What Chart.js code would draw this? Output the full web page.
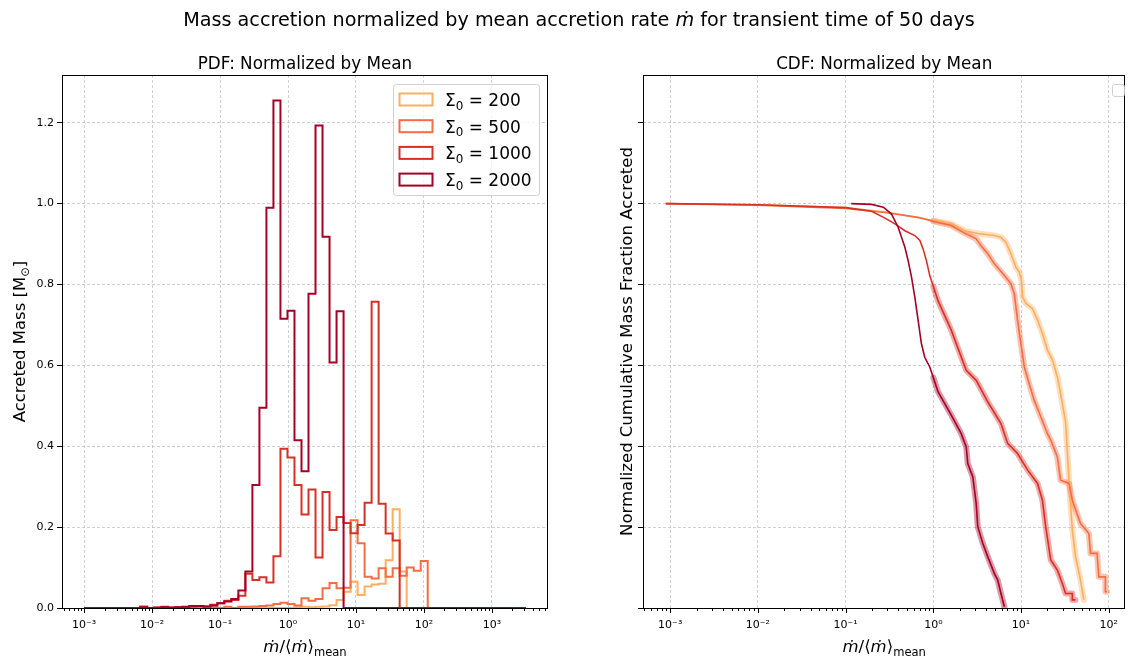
<!DOCTYPE html>
<html>
<head>
<meta charset="utf-8">
<script src="https://cdn.jsdelivr.net/npm/chart.js@4.4.1/dist/chart.umd.min.js"></script>
<style>
  html, body { margin: 0; padding: 0; background: #fff; }
  #figure { position: relative; width: 1129px; height: 659px; }
  #figure canvas { position: absolute; left: 0; top: 0; }
</style>
</head>
<body>
<div id="figure">
  <canvas id="pdfChart" width="1129" height="659"></canvas>
  <canvas id="cdfChart" width="1129" height="659"></canvas>
</div>
<script>
// ---------- data ----------
const sigmaLabels = ["200", "500", "1000", "2000"];
const sigmaColors = ["#fdae61", "#f46d43", "#d73027", "#a50026"];

// log-spaced histogram bins from 1e-3 to 10^3.5
const binLogMin = -3;
const binLogMax = 3.5;
const binCount = 63;

// accreted mass per bin [Msun]
const pdf200 = [
  0, 0, 0, 0, 0, 0, 0, 0, 0, 0,
  0, 0, 0, 0, 0, 0, 0, 0, 0, 0,
  0, 0, 0, 0, 0, 0, 0, 0, 0, 0,
  0.002, 0.003, 0.002, 0.003, 0.004, 0.007, 0.020, 0.040, 0.065, 0.032,
  0.053, 0.058, 0.060, 0.118, 0.244, 0.090, 0, 0, 0, 0,
  0, 0, 0, 0, 0, 0, 0, 0, 0, 0,
  0, 0, 0
];
const pdf500 = [
  0, 0, 0, 0, 0, 0, 0, 0, 0.001, 0,
  0, 0, 0.001, 0, 0, 0, 0.002, 0, 0.002, 0,
  0.003, 0, 0.003, 0.003, 0.004, 0.005, 0.006, 0.010, 0.013, 0.010,
  0.006, 0.024, 0.018, 0.022, 0.049, 0.062, 0.049, 0.050, 0.217, 0.160,
  0.077, 0.073, 0.098, 0.077, 0.098, 0.080, 0.100, 0.092, 0.116, 0,
  0, 0, 0, 0, 0, 0, 0, 0, 0, 0,
  0, 0, 0
];
const pdf1000 = [
  0, 0, 0, 0, 0, 0, 0, 0, 0.004, 0,
  0.002, 0.003, 0, 0.002, 0.002, 0.004, 0.005, 0.004, 0.008, 0.012,
  0.018, 0.020, 0.030, 0.085, 0.069, 0.076, 0.063, 0.128, 0.394, 0.372,
  0.304, 0.231, 0.293, 0.125, 0.287, 0.193, 0.225, 0.210, 0.185, 0.205,
  0.260, 0.757, 0.258, 0.184, 0.167, 0, 0, 0, 0, 0,
  0, 0, 0, 0, 0, 0, 0, 0, 0, 0,
  0, 0, 0
];
const pdf2000 = [
  0, 0, 0, 0, 0, 0, 0, 0, 0.002, 0,
  0, 0.002, 0.001, 0.002, 0.003, 0.005, 0.005, 0.004, 0.006, 0.012,
  0.016, 0.022, 0.043, 0.090, 0.304, 0.495, 0.990, 1.255, 0.715, 0.735,
  0.415, 0.338, 0.777, 1.193, 0.918, 0.607, 0.734, 0, 0, 0,
  0, 0, 0, 0, 0, 0, 0, 0, 0, 0,
  0, 0, 0, 0, 0, 0, 0, 0, 0, 0,
  0, 0, 0
];

// cumulative mass fraction above a given normalized rate
const cdf200X = [0.000891, 0.01, 0.1, 0.316, 1.0, 1.60, 2.27, 3.21, 4.97, 5.90, 6.73, 7.67, 8.73, 9.53, 10.1, 10.4, 11.4, 13.5, 15.4, 17.5, 20.0, 22.8, 25.9, 28.2, 32.2, 35.2, 38.4, 41.8, 47.6, 52.0];
const cdf200Y = [1.0, 0.997, 0.990, 0.978, 0.958, 0.950, 0.933, 0.926, 0.921, 0.917, 0.904, 0.876, 0.843, 0.831, 0.810, 0.769, 0.753, 0.740, 0.712, 0.679, 0.638, 0.613, 0.572, 0.530, 0.460, 0.316, 0.193, 0.127, 0.069, 0.020];

const cdf500X = [0.000891, 0.01, 0.1, 0.281, 0.671, 1.0, 1.60, 2.27, 3.08, 3.50, 4.17, 4.97, 6.46, 7.67, 8.38, 9.12, 9.95, 10.9, 12.4, 14.1, 16.8, 20.0, 21.8, 25.9, 28.2, 35.2, 38.4, 47.6, 59.3, 61.9, 73.6, 76.9, 91.6, 91.6, 95.5];
const cdf500Y = [1.0, 0.996, 0.988, 0.978, 0.966, 0.956, 0.946, 0.927, 0.913, 0.896, 0.876, 0.851, 0.822, 0.802, 0.777, 0.712, 0.654, 0.596, 0.554, 0.514, 0.473, 0.431, 0.415, 0.374, 0.316, 0.308, 0.267, 0.209, 0.184, 0.135, 0.135, 0.077, 0.077, 0.040, 0.040];

const cdf1000X = [0.000891, 0.01, 0.1, 0.198, 0.281, 0.365, 0.474, 0.615, 0.702, 0.764, 0.834, 0.910, 1.0, 1.13, 1.60, 2.37, 3.08, 4.17, 5.90, 7.03, 9.12, 11.9, 15.4, 17.5, 19.1, 21.8, 25.9, 29.5, 32.2, 38.4, 38.4, 41.8];
const cdf1000Y = [1.0, 0.997, 0.990, 0.981, 0.964, 0.950, 0.933, 0.921, 0.909, 0.888, 0.859, 0.822, 0.795, 0.760, 0.687, 0.588, 0.563, 0.510, 0.456, 0.407, 0.382, 0.341, 0.308, 0.267, 0.201, 0.119, 0.094, 0.061, 0.036, 0.036, 0.020, 0.020];

const cdf2000X = [0.116, 0.198, 0.269, 0.334, 0.398, 0.474, 0.516, 0.564, 0.615, 0.671, 0.731, 0.798, 0.910, 1.0, 1.13, 1.60, 2.08, 2.37, 2.47, 2.82, 3.08, 3.21, 3.66, 4.17, 4.97, 5.42, 5.90, 6.46];
const cdf2000Y = [1.0, 0.998, 0.991, 0.974, 0.941, 0.892, 0.859, 0.818, 0.769, 0.711, 0.654, 0.620, 0.596, 0.570, 0.535, 0.477, 0.431, 0.398, 0.357, 0.324, 0.258, 0.201, 0.160, 0.127, 0.085, 0.069, 0.036, 0.003];

const massTicks = [0, 0.2, 0.4, 0.6, 0.8, 1.0, 1.2];
const pdfXRange = [Math.pow(10, -3.325), Math.pow(10, 3.825)];
const cdfXRange = [Math.pow(10, -3.31), Math.pow(10, 2.19)];
const yRange = [0, 1.318];

const pdfSeries = [pdf200, pdf500, pdf1000, pdf2000];
const cdfSeriesX = [cdf200X, cdf500X, cdf1000X, cdf2000X];
const cdfSeriesY = [cdf200Y, cdf500Y, cdf1000Y, cdf2000Y];

// ---------- helpers ----------
const FONT = "'DejaVu Sans', sans-serif";
const SUP = { "-": "\u207B", "0": "\u2070", "1": "\u00B9", "2": "\u00B2", "3": "\u00B3" };

function binEdges() {
    const edges = [];
    for (let k = 0; k <= binCount; k++)
    {
        edges.push(Math.pow(10, binLogMin + k * (binLogMax - binLogMin) / binCount));
    }
    return edges;
}

// outline of a step histogram: up at the first edge, down at the last one
function stepOutline(values) {
    const edges = binEdges();
    const pts = [{ x: edges[0], y: 0 }];
    values.forEach((v, i) => pts.push({ x: edges[i], y: v }));
    pts.push({ x: edges[values.length], y: 0 });
    return pts;
}

function isDecade(v) {
    const l = Math.log10(v);
    return Math.abs(l - Math.round(l)) < 1e-6;
}

function logTicks(min, max) {
    const ticks = [];
    for (let e = Math.floor(Math.log10(min)); e <= Math.ceil(Math.log10(max)); e++)
    {
        for (let m = 1; m <= 9; m++)
        {
            const v = m * Math.pow(10, e);
            if (v >= min && v <= max) ticks.push({ value: v, major: m === 1 });
        }
    }
    return ticks;
}

function decadeLabel(v) {
    if (!isDecade(v)) return "";
    const e = String(Math.round(Math.log10(v)));
    return "10" + e.split("").map((c) => SUP[c]).join("");
}

function hexToRgba(hex, a) {
    const n = parseInt(hex.slice(1), 16);
    return `rgba(${(n >> 16) & 255}, ${(n >> 8) & 255}, ${n & 255}, ${a})`;
}

// text with italic and subscript runs: [text, kind] where kind is n, i or s
function runFont(kind, size) {
    const s = kind === "s" ? size * 0.7 : size;
    return (kind === "i" ? "italic " : "") + s + "px " + FONT;
}

function richWidth(ctx, runs, size) {
    let w = 0;
    runs.forEach(([t, k]) => {
        ctx.font = runFont(k, size);
        w += ctx.measureText(t).width;
    });
    return w;
}

function drawRich(ctx, runs, x, y, size, align, angle) {
    ctx.save();
    ctx.translate(x, y);
    if (angle) ctx.rotate(angle);
    ctx.fillStyle = "#000";
    ctx.textBaseline = "alphabetic";
    ctx.textAlign = "left";
    let cx = align === "left" ? 0 : -richWidth(ctx, runs, size) / 2;
    runs.forEach(([t, k]) => {
        ctx.font = runFont(k, size);
        ctx.fillText(t, cx, k === "s" ? size * 0.22 : 0);
        cx += ctx.measureText(t).width;
    });
    ctx.restore();
}

function roundRect(ctx, x, y, w, h, r) {
    ctx.beginPath();
    ctx.moveTo(x + r, y);
    ctx.arcTo(x + w, y, x + w, y + h, r);
    ctx.arcTo(x + w, y + h, x, y + h, r);
    ctx.arcTo(x, y + h, x, y, r);
    ctx.arcTo(x, y, x + w, y, r);
    ctx.closePath();
}

const rateLabel = [["\u1E41", "i"], ["/\u27E8", "n"], ["\u1E41", "i"], ["\u27E9", "n"], ["mean", "s"]];

// box around the axes, log minor ticks and the figure texts
const axesDecor = {
    id: "axesDecor",
    afterDraw(chart, args, opts) {
        const ctx = chart.ctx;
        const area = chart.chartArea;
        const xs = chart.scales.x;

        ctx.save();
        ctx.strokeStyle = "#000";
        ctx.lineWidth = 1;
        xs.ticks.forEach((t) => {
            const px = Math.round(xs.getPixelForValue(t.value)) + 0.5;
            ctx.beginPath();
            ctx.moveTo(px, area.bottom);
            ctx.lineTo(px, area.bottom + (t.major ? 5 : 3));
            ctx.stroke();
        });
        ctx.strokeRect(Math.round(area.left) + 0.5, Math.round(area.top) + 0.5,
            Math.round(area.right - area.left) - 1, Math.round(area.bottom - area.top));
        ctx.restore();

        const midX = (area.left + area.right) / 2;
        const midY = (area.top + area.bottom) / 2;
        drawRich(ctx, [[opts.title, "n"]], midX, 69, 16.8, "center");
        drawRich(ctx, rateLabel, midX, 652, 16.5, "center");
        drawRich(ctx, opts.yLabel, opts.yLabelX, midY, 16.5, "center", -Math.PI / 2);

        if (opts.suptitle)
        {
            drawRich(ctx, opts.suptitle, 579, 26, 19.2, "center");
        }

        if (opts.legend)
        {
            ctx.save();
            roundRect(ctx, 393.5, 84.5, 146, 111, 3);
            ctx.fillStyle = "rgba(255,255,255,0.8)";
            ctx.fill();
            ctx.strokeStyle = "rgba(204,204,204,0.9)";
            ctx.lineWidth = 1;
            ctx.stroke();
            sigmaLabels.forEach((lab, i) => {
                const rowY = 93.5 + i * 26.7;
                ctx.strokeStyle = sigmaColors[i];
                ctx.lineWidth = 2;
                ctx.strokeRect(399.5, rowY, 33, 12);
                drawRich(ctx, [["\u03A3", "n"], ["0", "s"], [" = " + lab, "n"]], 445, rowY + 12.5, 17, "left");
            });
            ctx.restore();
        }
        else
        {
            // legend frame with no entries
            ctx.save();
            roundRect(ctx, 1112.5, 84.5, 12, 12, 2);
            ctx.strokeStyle = "rgba(204,204,204,0.9)";
            ctx.lineWidth = 1;
            ctx.stroke();
            ctx.restore();
        }
    }
};

function xAxis(range) {
    return {
        type: "logarithmic",
        min: range[0],
        max: range[1],
        afterBuildTicks: (scale) => { scale.ticks = logTicks(scale.min, scale.max); },
        afterFit: (scale) => { scale.height = 45; },
        grid: {
            drawTicks: false,
            lineWidth: 0.8,
            color: (c) => (c.tick && c.tick.major ? "rgba(176,176,176,0.75)" : "rgba(0,0,0,0)")
        },
        border: { display: false, dash: [3, 2] },
        ticks: {
            autoSkip: false,
            maxRotation: 0,
            padding: 11,
            color: "#000",
            font: { family: FONT, size: 11 },
            callback: (v) => decadeLabel(v)
        }
    };
}

function yAxis(showLabels) {
    return {
        min: yRange[0],
        max: yRange[1],
        afterBuildTicks: (scale) => { scale.ticks = massTicks.map((v) => ({ value: v })); },
        afterFit: (scale) => { scale.width = 50; },
        grid: {
            lineWidth: 0.8,
            color: "rgba(176,176,176,0.75)",
            tickLength: 5,
            tickColor: "#000",
            tickWidth: 1
        },
        border: { display: false, dash: [3, 2] },
        ticks: {
            display: showLabels,
            padding: 3,
            color: "#000",
            font: { family: FONT, size: 11 },
            callback: (v) => v.toFixed(1)
        }
    };
}

// ---------- PDF panel ----------
const pdfDatasets = pdfSeries.map((values, i) => ({
    label: "\u03A3\u2080 = " + sigmaLabels[i],
    data: stepOutline(values),
    borderColor: sigmaColors[i],
    backgroundColor: "rgba(0,0,0,0)",
    borderWidth: 2,
    stepped: true,
    pointRadius: 0,
    fill: false,
    order: pdfSeries.length - i
}));

new Chart(document.getElementById("pdfChart"), {
    type: "line",
    data: { datasets: pdfDatasets },
    options: {
        responsive: false,
        animation: false,
        layout: { padding: { left: 12, right: 581, top: 75, bottom: 6 } },
        scales: { x: xAxis(pdfXRange), y: yAxis(true) },
        plugins: {
            legend: { display: false },
            tooltip: { enabled: false },
            axesDecor: {
                title: "PDF: Normalized by Mean",
                yLabel: [["Accreted Mass [M", "n"], ["\u2299", "s"], ["]", "n"]],
                yLabelX: 25,
                legend: true,
                suptitle: [
                    ["Mass accretion normalized by mean accretion rate ", "n"],
                    ["\u1E41", "i"],
                    [" for transient time of 50 days", "n"]
                ]
            }
        }
    },
    plugins: [axesDecor]
});

// ---------- CDF panel ----------
const cdfDatasets = [];
cdfSeriesX.forEach((xs, i) => {
    const pts = xs.map((x, j) => ({ x: x, y: cdfSeriesY[i][j] }));
    cdfDatasets.push({
        label: sigmaLabels[i],
        data: pts,
        borderColor: sigmaColors[i],
        borderWidth: 1.6,
        pointRadius: 0,
        fill: false,
        order: 4 - i
    });
    // highlighted part above the mean rate
    cdfDatasets.push({
        label: sigmaLabels[i] + " (x >= 1)",
        data: pts.filter((p) => p.x >= 1),
        borderColor: hexToRgba(sigmaColors[i], 0.4),
        borderWidth: 6,
        borderCapStyle: "round",
        borderJoinStyle: "round",
        pointRadius: 0,
        fill: false,
        order: 10 - i
    });
});

new Chart(document.getElementById("cdfChart"), {
    type: "line",
    data: { datasets: cdfDatasets },
    options: {
        responsive: false,
        animation: false,
        layout: { padding: { left: 593, right: 1, top: 75, bottom: 6 } },
        scales: { x: xAxis(cdfXRange), y: yAxis(false) },
        plugins: {
            legend: { display: false },
            tooltip: { enabled: false },
            axesDecor: {
                title: "CDF: Normalized by Mean",
                yLabel: [["Normalized Cumulative Mass Fraction Accreted", "n"]],
                yLabelX: 632,
                legend: false
            }
        }
    },
    plugins: [axesDecor]
});
</script>
</body>
</html>
